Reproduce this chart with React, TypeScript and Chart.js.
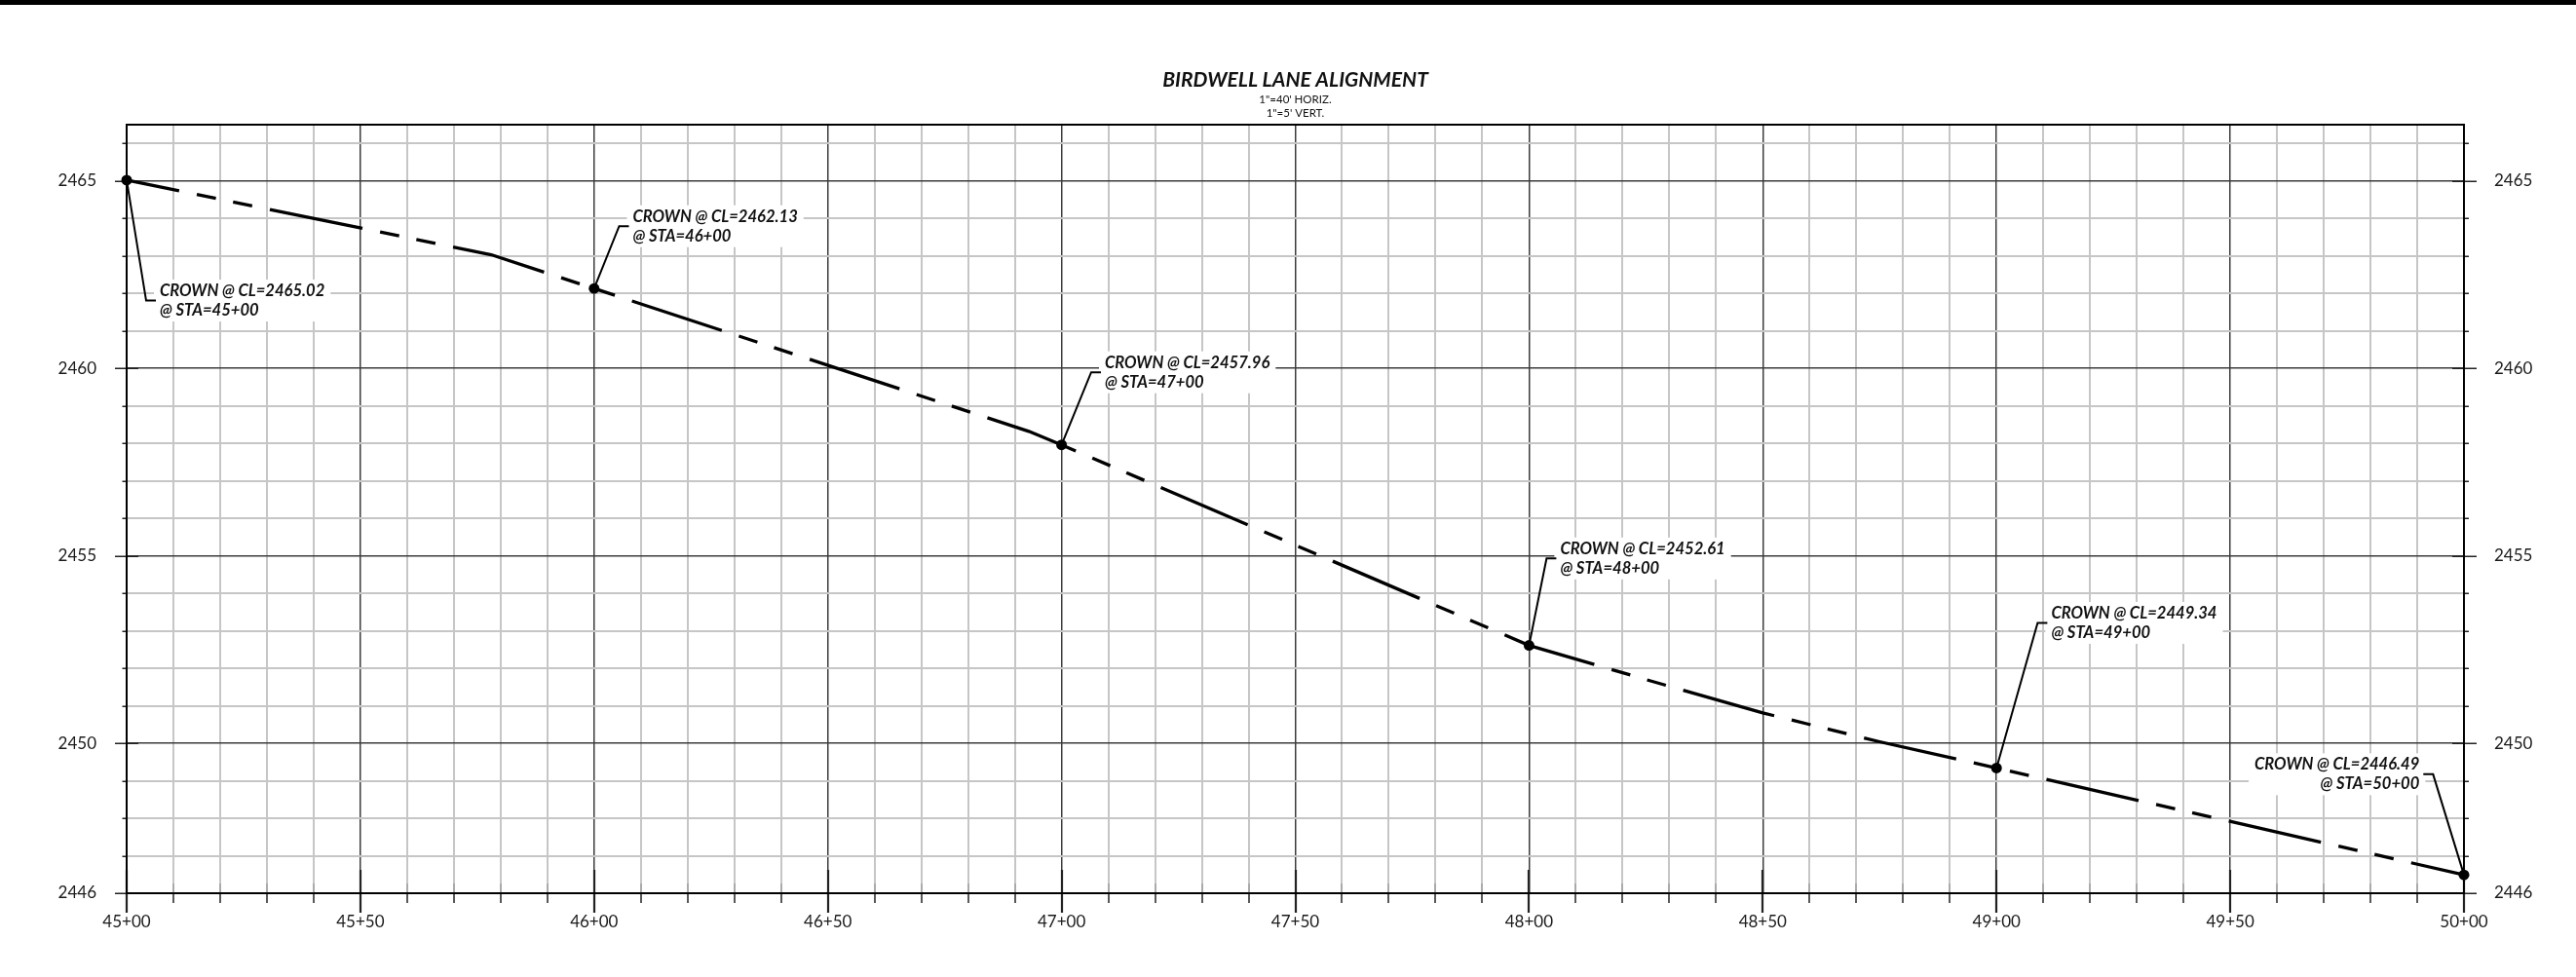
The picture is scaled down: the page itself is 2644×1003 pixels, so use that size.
import React, { useEffect, useRef } from "react";
import { Chart, registerables } from "chart.js";

Chart.register(...registerables);

// ---------------- data ----------------
const TITLE = "BIRDWELL LANE ALIGNMENT";
const SUBTITLE = ['1"=40\' HORIZ.', '1"=5\' VERT.'];

// profile vertices (station in ft, elevation in ft)
const STATIONS = [4500, 4578, 4600, 4693, 4700, 4800, 4825, 4850, 4875, 4900, 5000];
const ELEVATIONS = [2465.02, 2463.03, 2462.13, 2458.32, 2457.96, 2452.61, 2451.7, 2450.81, 2450.04, 2449.34, 2446.49];

// labelled crown points
const CROWN_STATIONS = [4500, 4600, 4700, 4800, 4900, 5000];
const CROWN_ELEVATIONS = [2465.02, 2462.13, 2457.96, 2452.61, 2449.34, 2446.49];

// axes
const X_MIN = 4500;
const X_MAX = 5000;
const X_STEP = 10;
const X_LABEL_STATIONS = [4500, 4550, 4600, 4650, 4700, 4750, 4800, 4850, 4900, 4950, 5000];
const X_LABELS = ["45+00", "45+50", "46+00", "46+50", "47+00", "47+50", "48+00", "48+50", "49+00", "49+50", "50+00"];
const Y_MIN = 2446;
const Y_MAX = 2466.5;
const Y_STEP = 1;
const Y_LABEL_VALUES = [2446, 2450, 2455, 2460, 2465];
const Y_LABELS = ["2446", "2450", "2455", "2460", "2465"];

// ---------------- layout / style ----------------
const W = 2644;
const H = 1003;
const MAJOR = "#3c3c3c";
const MINOR = "#c6c6c6";
const TICK_FONT = { family: "Lato, sans-serif", size: 17, weight: "normal" as const };
const CALLOUT_FONT = "italic bold 16.6px Lato, sans-serif";
// leader elbow offsets from the point (px) and text side
const CALLOUTS = [
  { dx: 20, dy: 123.6, side: 1 },
  { dx: 25.7, dy: -64, side: 1 },
  { dx: 30.4, dy: -74.5, side: 1 },
  { dx: 18, dy: -89.3, side: 1 },
  { dx: 42.2, dy: -149, side: 1 },
  { dx: -31.7, dy: -103.3, side: -1 },
];

const xTickValues: number[] = [];
for (let v = X_MIN; v <= X_MAX; v += X_STEP) xTickValues.push(v);
const yTickValues: number[] = [];
for (let v = Y_MIN; v <= Math.floor(Y_MAX); v += Y_STEP) yTickValues.push(v);

const xLabelFor = (v: number) => {
  const i = X_LABEL_STATIONS.indexOf(v);
  return i >= 0 ? X_LABELS[i] : "";
};
const yLabelFor = (v: number) => {
  const i = Y_LABEL_VALUES.indexOf(v);
  return i >= 0 ? Y_LABELS[i] : "";
};
const staText = (v: number) => {
  const h = Math.floor(v / 100);
  const r = v - h * 100;
  return `${h}+${r < 10 ? "0" : ""}${r}`;
};

const decorPlugin = {
  id: "profileDecor",
  beforeDraw(chart: any) {
    const ctx = chart.ctx;
    const ca = chart.chartArea;
    ctx.save();
    ctx.fillStyle = "#fff";
    ctx.fillRect(0, 0, chart.width, chart.height);
    ctx.fillStyle = "#000";
    ctx.fillRect(0, 0, chart.width, 5);
    const cx = (ca.left + ca.right) / 2;
    ctx.textAlign = "center";
    ctx.textBaseline = "alphabetic";
    ctx.fillStyle = "#111";
    ctx.font = "italic bold 21px Lato, sans-serif";
    ctx.fillText(TITLE, cx, ca.top - 39);
    ctx.font = "11.5px Lato, sans-serif";
    ctx.fillText(SUBTITLE[0], cx, ca.top - 22.5);
    ctx.fillText(SUBTITLE[1], cx, ca.top - 8.5);
    ctx.restore();
  },
  beforeDatasetsDraw(chart: any) {
    const ctx = chart.ctx;
    const ca = chart.chartArea;
    const xs = chart.scales.x;
    const ys = chart.scales.y;
    ctx.save();
    // y ticks, both sides
    ctx.strokeStyle = "#222";
    ys.ticks.forEach((t: any) => {
      const y = Math.round(ys.getPixelForValue(t.value)) + 0.25;
      const major = Y_LABEL_VALUES.indexOf(t.value) >= 0;
      ctx.lineWidth = major ? 1.6 : 1.5;
      ctx.beginPath();
      ctx.moveTo(ca.left - (major ? 12 : 4.5), y);
      ctx.lineTo(ca.left + (major ? 12 : 0), y);
      ctx.moveTo(ca.right - (major ? 12 : 0), y);
      ctx.lineTo(ca.right + (major ? 13 : 5), y);
      ctx.stroke();
    });
    // x ticks
    xs.ticks.forEach((t: any) => {
      const x = Math.round(xs.getPixelForValue(t.value));
      const major = X_LABEL_STATIONS.indexOf(t.value) >= 0;
      if (major) {
        ctx.strokeStyle = "#222";
        ctx.lineWidth = 2.2;
        ctx.beginPath();
        ctx.moveTo(x, ca.bottom - 24);
        ctx.lineTo(x, ca.bottom + 20);
        ctx.stroke();
      } else {
        ctx.strokeStyle = "#aaa";
        ctx.lineWidth = 2;
        ctx.beginPath();
        ctx.moveTo(x, ca.bottom - 10);
        ctx.lineTo(x, ca.bottom);
        ctx.stroke();
        ctx.strokeStyle = "#222";
        ctx.lineWidth = 1.5;
        ctx.beginPath();
        ctx.moveTo(x, ca.bottom);
        ctx.lineTo(x, ca.bottom + 10);
        ctx.stroke();
      }
    });
    // frame
    ctx.strokeStyle = "#000";
    ctx.lineWidth = 2;
    ctx.strokeRect(ca.left, ca.top, ca.right - ca.left, ca.bottom - ca.top);

    // callouts
    ctx.font = CALLOUT_FONT;
    CROWN_STATIONS.forEach((st, i) => {
      const px = xs.getPixelForValue(st);
      const py = ys.getPixelForValue(CROWN_ELEVATIONS[i]);
      const o = CALLOUTS[i];
      const ex = px + o.dx;
      const ey = py + o.dy;
      const hx = ex + o.side * 10;
      const tx = hx + o.side * 4;
      const b1 = ey - 4.5;
      const b2 = b1 + 20;
      const l1 = `CROWN @ CL=${CROWN_ELEVATIONS[i].toFixed(2)}`;
      const l2 = `@ STA=${staText(st)}`;
      const w = Math.max(ctx.measureText(l1).width, ctx.measureText(l2).width);
      const bx = o.side > 0 ? tx - 6 : tx - w - 6;
      ctx.fillStyle = "#fff";
      ctx.fillRect(bx, b1 - 17, w + 12, b2 + 6 - (b1 - 17));
      ctx.strokeStyle = "#000";
      ctx.lineWidth = 2;
      ctx.beginPath();
      ctx.moveTo(px, py);
      ctx.lineTo(ex, ey);
      ctx.lineTo(hx, ey);
      ctx.stroke();
      ctx.fillStyle = "#111";
      ctx.textAlign = o.side > 0 ? "left" : "right";
      ctx.textBaseline = "alphabetic";
      ctx.fillText(l1, tx, b1);
      ctx.fillText(l2, tx, b2);
    });
    ctx.restore();
  },
};

export default function App() {
  const ref = useRef<HTMLCanvasElement | null>(null);
  useEffect(() => {
    if (!ref.current) return;
    const chart = new Chart(ref.current, {
      type: "line",
      data: {
        datasets: [
          {
            label: "Crown",
            data: CROWN_STATIONS.map((s, i) => ({ x: s, y: CROWN_ELEVATIONS[i] })),
            showLine: false,
            pointRadius: 5.5,
            pointBackgroundColor: "#000",
            pointBorderColor: "#000",
            pointBorderWidth: 0,
            clip: false,
            order: 1,
          } as any,
          {
            label: "Profile",
            data: STATIONS.map((s, i) => ({ x: s, y: ELEVATIONS[i] })),
            borderColor: "#000",
            borderWidth: 3.3,
            borderDash: [97, 18.5, 20, 18, 20, 18.5],
            borderDashOffset: 42,
            pointRadius: 0,
            tension: 0,
            fill: false,
            clip: false,
            order: 2,
          } as any,
        ],
      },
      options: {
        responsive: false,
        animation: false,
        events: [],
        layout: { padding: { top: 128, left: 0, right: 0, bottom: 0 } },
        plugins: {
          legend: { display: false },
          tooltip: { enabled: false },
          title: { display: false },
        },
        scales: {
          x: {
            type: "linear",
            position: "bottom",
            min: X_MIN,
            max: X_MAX,
            afterBuildTicks: (s: any) => {
              s.ticks = xTickValues.map((v) => ({ value: v }));
            },
            afterFit: (s: any) => {
              s.height = 86;
            },
            grid: {
              drawTicks: false,
              color: (c: any) => (c.tick && X_LABEL_STATIONS.indexOf(c.tick.value) >= 0 ? MAJOR : MINOR),
              lineWidth: (c: any) => (c.tick && X_LABEL_STATIONS.indexOf(c.tick.value) >= 0 ? 1.5 : 2),
            },
            border: { display: false },
            ticks: {
              autoSkip: false,
              maxRotation: 0,
              minRotation: 0,
              padding: 19,
              color: "#1a1a1a",
              font: TICK_FONT,
              callback: (v: any) => xLabelFor(Number(v)),
            },
          },
          y: {
            type: "linear",
            position: "left",
            min: Y_MIN,
            max: Y_MAX,
            afterBuildTicks: (s: any) => {
              s.ticks = yTickValues.map((v) => ({ value: v }));
            },
            afterFit: (s: any) => {
              s.width = 130;
            },
            grid: {
              drawTicks: false,
              color: (c: any) => (c.tick && c.tick.value % 5 === 0 ? MAJOR : MINOR),
              lineWidth: (c: any) => (c.tick && c.tick.value % 5 === 0 ? 1.5 : 2),
            },
            border: { display: false },
            ticks: {
              autoSkip: false,
              padding: 31,
              color: "#1a1a1a",
              font: TICK_FONT,
              callback: (v: any) => yLabelFor(Number(v)),
            },
          },
          y2: {
            type: "linear",
            position: "right",
            min: Y_MIN,
            max: Y_MAX,
            afterBuildTicks: (s: any) => {
              s.ticks = yTickValues.map((v) => ({ value: v }));
            },
            afterFit: (s: any) => {
              s.width = 115;
            },
            grid: { display: false, drawTicks: false },
            border: { display: false },
            ticks: {
              autoSkip: false,
              padding: 31,
              color: "#1a1a1a",
              font: TICK_FONT,
              callback: (v: any) => yLabelFor(Number(v)),
            },
          },
        },
      } as any,
      plugins: [decorPlugin],
    });
    return () => chart.destroy();
  }, []);
  return (
    <div style={{ position: "absolute", left: 0, top: 0, width: W, height: H, background: "#fff" }}>
      <canvas ref={ref} width={W} height={H} style={{ display: "block", width: W, height: H }} />
    </div>
  );
}
